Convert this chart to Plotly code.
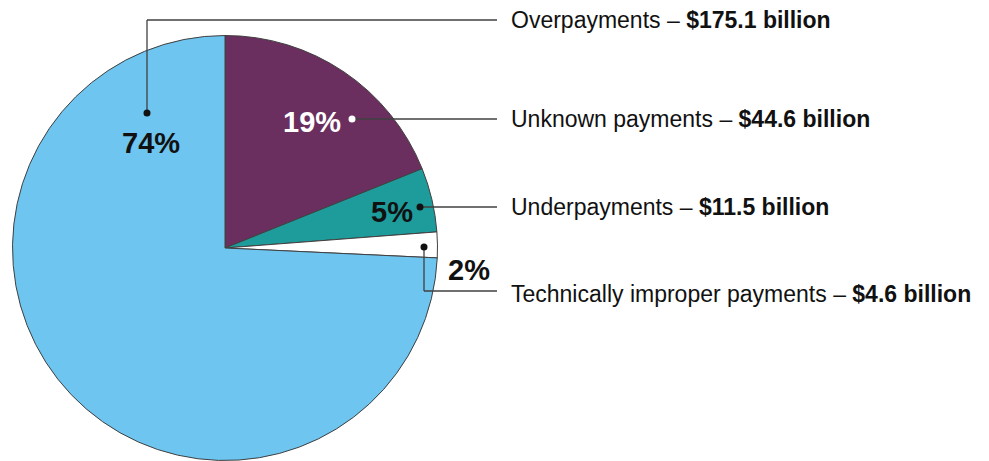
import plotly.graph_objects as go

categories = ["Unknown payments", "Underpayments", "Technically improper payments", "Overpayments"]
values = [44.6, 11.5, 4.6, 175.1]
pct_labels = ["19%", "5%", "2%", "74%"]
value_labels = ["$44.6 billion", "$11.5 billion", "$4.6 billion", "$175.1 billion"]
colors = ["#6A2F5F", "#1E9B9B", "#FFFFFF", "#6DC5F0"]

W, H = 989, 461
OFF = 8  # page body offset
def px(x): return (x - OFF) / W
def py(y): return 1 - (y - OFF) / H

fig = go.Figure()
fig.add_trace(go.Pie(
    labels=categories, values=values, sort=False, direction="clockwise", rotation=0,
    marker=dict(colors=colors, line=dict(color="#404040", width=1)),
    textinfo="none", hoverinfo="label+value+percent", showlegend=False,
    domain=dict(x=[px(12.5), px(437.5)], y=[py(460.5), py(35.5)]),
))

font = "Liberation Sans, Arial, sans-serif"
anns = []
shapes = []
line_style = dict(color="#404040", width=1.3)

leaders = {
    "Overpayments": [(147, 113), (147, 20), (497, 20)],
    "Unknown payments": [(352, 119), (497, 119)],
    "Underpayments": [(420, 207), (497, 207)],
    "Technically improper payments": [(424, 247), (424, 291), (497, 291)],
}
text_y = {"Overpayments": 20, "Unknown payments": 119, "Underpayments": 207,
          "Technically improper payments": 294}
pct_pos = {"Overpayments": (151, 143, "#111111"), "Unknown payments": (312, 122, "white"),
           "Underpayments": (392, 212, "#111111"), "Technically improper payments": (469, 270, "#111111")}

for cat, pct, vl in zip(categories, pct_labels, value_labels):
    pts = leaders[cat]
    for (x0, y0), (x1, y1) in zip(pts[:-1], pts[1:]):
        shapes.append(dict(type="line", xref="paper", yref="paper", x0=px(x0), y0=py(y0),
                           x1=px(x1), y1=py(y1), line=line_style))
    dx, dy = pts[0]
    dot_color = "white" if cat == "Unknown payments" else "#111111"
    shapes.append(dict(type="circle", xref="paper", yref="paper", xsizemode="pixel", ysizemode="pixel",
                       xanchor=px(dx), yanchor=py(dy), x0=-3.5, x1=3.5, y0=-3.5, y1=3.5,
                       fillcolor=dot_color, line=dict(width=0)))
    anns.append(dict(xref="paper", yref="paper", x=px(509), y=py(text_y[cat]), xanchor="left", yanchor="middle",
                     text=f"{cat} – <b>{vl}</b>", showarrow=False,
                     font=dict(family=font, size=23, color="#111111")))
    ax, ay, c = pct_pos[cat]
    anns.append(dict(xref="paper", yref="paper", x=px(ax), y=py(ay), xanchor="center", yanchor="middle",
                     text=f"<b>{pct}</b>", showarrow=False,
                     font=dict(family=font, size=29, color=c)))

fig.update_layout(width=W, height=H, margin=dict(l=0, r=0, t=0, b=0),
                  paper_bgcolor="white", plot_bgcolor="white",
                  annotations=anns, shapes=shapes)
fig.write_html("out.html")
